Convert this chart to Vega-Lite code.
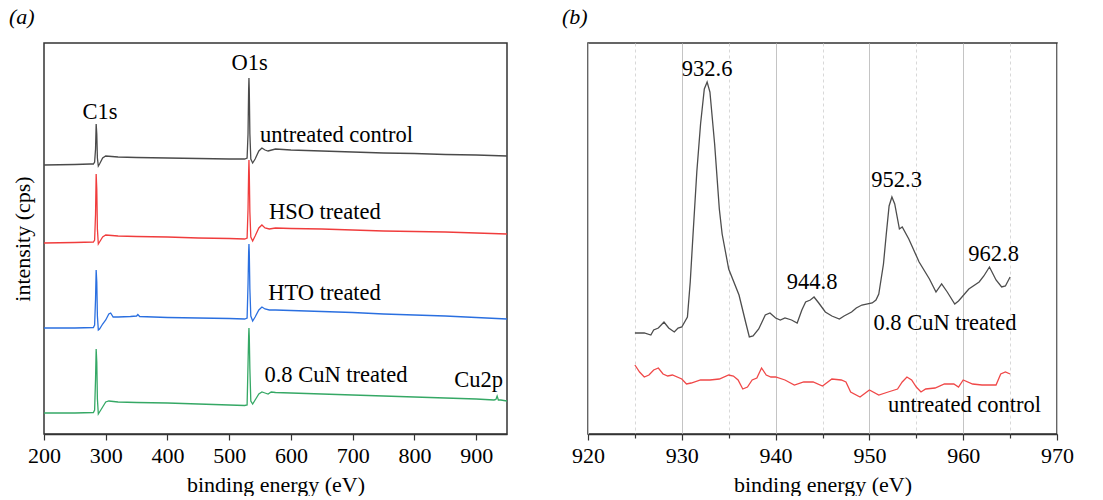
{
  "$schema": "https://vega.github.io/schema/vega-lite/v6.json",
  "padding": {"left": 8, "top": 5, "right": 5, "bottom": 0},
  "background": "white",
  "spacing": 53,
  "resolve": {"scale": {"color": "independent", "x": "independent", "y": "independent"}},
  "config": {
    "font": "Liberation Serif",
    "view": {"stroke": "#333333", "strokeWidth": 1.5},
    "axis": {"labelFont": "Liberation Serif", "labelFontSize": 22, "labelColor": "#000000", "titleFont": "Liberation Serif", "titleFontSize": 22, "titleFontWeight": "normal", "titleColor": "#000000", "domainColor": "#333333", "domainWidth": 1.5, "tickColor": "#333333", "tickWidth": 1.2, "labelPadding": 5, "titlePadding": 8},
    "title": {"font": "Liberation Serif", "fontSize": 22, "fontWeight": "normal", "fontStyle": "italic", "color": "#000000", "anchor": "start", "frame": "group", "offset": 14},
    "text": {"font": "Liberation Serif", "fontSize": 22.5, "color": "#000000", "baseline": "alphabetic", "align": "center"}
  },
  "datasets": {
    "survey": [
      {"sample": "untreated control", "energy": 200, "intensity": 269}, {"sample": "untreated control", "energy": 250, "intensity": 269.5}, {"sample": "untreated control", "energy": 275, "intensity": 270}, {"sample": "untreated control", "energy": 280, "intensity": 270}, {"sample": "untreated control", "energy": 282, "intensity": 272}, {"sample": "untreated control", "energy": 283.5, "intensity": 285}, {"sample": "untreated control", "energy": 284.5, "intensity": 310}, {"sample": "untreated control", "energy": 285.5, "intensity": 300}, {"sample": "untreated control", "energy": 286.5, "intensity": 276}, {"sample": "untreated control", "energy": 288, "intensity": 268}, {"sample": "untreated control", "energy": 290, "intensity": 270}, {"sample": "untreated control", "energy": 295, "intensity": 276}, {"sample": "untreated control", "energy": 300, "intensity": 278}, {"sample": "untreated control", "energy": 320, "intensity": 277}, {"sample": "untreated control", "energy": 350, "intensity": 276.5}, {"sample": "untreated control", "energy": 400, "intensity": 276}, {"sample": "untreated control", "energy": 450, "intensity": 275.5}, {"sample": "untreated control", "energy": 500, "intensity": 275}, {"sample": "untreated control", "energy": 525, "intensity": 275}, {"sample": "untreated control", "energy": 529, "intensity": 276}, {"sample": "untreated control", "energy": 530.5, "intensity": 300}, {"sample": "untreated control", "energy": 531.5, "intensity": 345}, {"sample": "untreated control", "energy": 532, "intensity": 356}, {"sample": "untreated control", "energy": 532.5, "intensity": 345}, {"sample": "untreated control", "energy": 533.5, "intensity": 300}, {"sample": "untreated control", "energy": 535, "intensity": 275}, {"sample": "untreated control", "energy": 538, "intensity": 271}, {"sample": "untreated control", "energy": 542, "intensity": 275}, {"sample": "untreated control", "energy": 548, "intensity": 283}, {"sample": "untreated control", "energy": 553, "intensity": 286}, {"sample": "untreated control", "energy": 558, "intensity": 284}, {"sample": "untreated control", "energy": 563, "intensity": 283}, {"sample": "untreated control", "energy": 575, "intensity": 285}, {"sample": "untreated control", "energy": 600, "intensity": 284}, {"sample": "untreated control", "energy": 650, "intensity": 283}, {"sample": "untreated control", "energy": 700, "intensity": 282}, {"sample": "untreated control", "energy": 750, "intensity": 281}, {"sample": "untreated control", "energy": 800, "intensity": 280.5}, {"sample": "untreated control", "energy": 850, "intensity": 279.5}, {"sample": "untreated control", "energy": 900, "intensity": 279}, {"sample": "untreated control", "energy": 950, "intensity": 278},
      {"sample": "HSO treated", "energy": 200, "intensity": 191}, {"sample": "HSO treated", "energy": 250, "intensity": 191.5}, {"sample": "HSO treated", "energy": 280, "intensity": 192}, {"sample": "HSO treated", "energy": 282, "intensity": 194}, {"sample": "HSO treated", "energy": 283.5, "intensity": 220}, {"sample": "HSO treated", "energy": 284.5, "intensity": 260}, {"sample": "HSO treated", "energy": 285.5, "intensity": 245}, {"sample": "HSO treated", "energy": 286.5, "intensity": 205}, {"sample": "HSO treated", "energy": 288, "intensity": 190}, {"sample": "HSO treated", "energy": 290, "intensity": 192}, {"sample": "HSO treated", "energy": 295, "intensity": 197}, {"sample": "HSO treated", "energy": 300, "intensity": 199}, {"sample": "HSO treated", "energy": 320, "intensity": 198}, {"sample": "HSO treated", "energy": 350, "intensity": 197.5}, {"sample": "HSO treated", "energy": 400, "intensity": 197}, {"sample": "HSO treated", "energy": 450, "intensity": 196}, {"sample": "HSO treated", "energy": 500, "intensity": 195.5}, {"sample": "HSO treated", "energy": 525, "intensity": 195}, {"sample": "HSO treated", "energy": 529, "intensity": 196}, {"sample": "HSO treated", "energy": 530.5, "intensity": 225}, {"sample": "HSO treated", "energy": 531.5, "intensity": 262}, {"sample": "HSO treated", "energy": 532, "intensity": 274}, {"sample": "HSO treated", "energy": 532.5, "intensity": 262}, {"sample": "HSO treated", "energy": 533.5, "intensity": 222}, {"sample": "HSO treated", "energy": 535, "intensity": 197}, {"sample": "HSO treated", "energy": 538, "intensity": 193}, {"sample": "HSO treated", "energy": 542, "intensity": 198}, {"sample": "HSO treated", "energy": 548, "intensity": 206}, {"sample": "HSO treated", "energy": 553, "intensity": 209}, {"sample": "HSO treated", "energy": 558, "intensity": 206}, {"sample": "HSO treated", "energy": 565, "intensity": 205}, {"sample": "HSO treated", "energy": 575, "intensity": 206}, {"sample": "HSO treated", "energy": 600, "intensity": 205.5}, {"sample": "HSO treated", "energy": 650, "intensity": 205}, {"sample": "HSO treated", "energy": 700, "intensity": 204}, {"sample": "HSO treated", "energy": 750, "intensity": 203}, {"sample": "HSO treated", "energy": 800, "intensity": 202.5}, {"sample": "HSO treated", "energy": 850, "intensity": 202}, {"sample": "HSO treated", "energy": 900, "intensity": 201}, {"sample": "HSO treated", "energy": 950, "intensity": 200},
      {"sample": "HTO treated", "energy": 200, "intensity": 106}, {"sample": "HTO treated", "energy": 250, "intensity": 106}, {"sample": "HTO treated", "energy": 280, "intensity": 106.5}, {"sample": "HTO treated", "energy": 282, "intensity": 109}, {"sample": "HTO treated", "energy": 283.5, "intensity": 135}, {"sample": "HTO treated", "energy": 284.5, "intensity": 164}, {"sample": "HTO treated", "energy": 285.5, "intensity": 152}, {"sample": "HTO treated", "energy": 286.5, "intensity": 118}, {"sample": "HTO treated", "energy": 288, "intensity": 104}, {"sample": "HTO treated", "energy": 290, "intensity": 105}, {"sample": "HTO treated", "energy": 295, "intensity": 110}, {"sample": "HTO treated", "energy": 300, "intensity": 114}, {"sample": "HTO treated", "energy": 305, "intensity": 120}, {"sample": "HTO treated", "energy": 308, "intensity": 121}, {"sample": "HTO treated", "energy": 312, "intensity": 117}, {"sample": "HTO treated", "energy": 320, "intensity": 117}, {"sample": "HTO treated", "energy": 340, "intensity": 117.5}, {"sample": "HTO treated", "energy": 350, "intensity": 118}, {"sample": "HTO treated", "energy": 352, "intensity": 119.5}, {"sample": "HTO treated", "energy": 355, "intensity": 117.5}, {"sample": "HTO treated", "energy": 400, "intensity": 116.5}, {"sample": "HTO treated", "energy": 450, "intensity": 116}, {"sample": "HTO treated", "energy": 500, "intensity": 115.5}, {"sample": "HTO treated", "energy": 525, "intensity": 115}, {"sample": "HTO treated", "energy": 529, "intensity": 116}, {"sample": "HTO treated", "energy": 530.5, "intensity": 150}, {"sample": "HTO treated", "energy": 531.5, "intensity": 182}, {"sample": "HTO treated", "energy": 532, "intensity": 190}, {"sample": "HTO treated", "energy": 532.5, "intensity": 182}, {"sample": "HTO treated", "energy": 533.5, "intensity": 145}, {"sample": "HTO treated", "energy": 535, "intensity": 118}, {"sample": "HTO treated", "energy": 538, "intensity": 113}, {"sample": "HTO treated", "energy": 542, "intensity": 117}, {"sample": "HTO treated", "energy": 548, "intensity": 124}, {"sample": "HTO treated", "energy": 553, "intensity": 127}, {"sample": "HTO treated", "energy": 558, "intensity": 125}, {"sample": "HTO treated", "energy": 565, "intensity": 124}, {"sample": "HTO treated", "energy": 575, "intensity": 124}, {"sample": "HTO treated", "energy": 600, "intensity": 123.5}, {"sample": "HTO treated", "energy": 650, "intensity": 122.5}, {"sample": "HTO treated", "energy": 700, "intensity": 121.5}, {"sample": "HTO treated", "energy": 750, "intensity": 120}, {"sample": "HTO treated", "energy": 800, "intensity": 119}, {"sample": "HTO treated", "energy": 850, "intensity": 118}, {"sample": "HTO treated", "energy": 900, "intensity": 116.5}, {"sample": "HTO treated", "energy": 950, "intensity": 115},
      {"sample": "0.8 CuN treated", "energy": 200, "intensity": 21}, {"sample": "0.8 CuN treated", "energy": 250, "intensity": 21}, {"sample": "0.8 CuN treated", "energy": 280, "intensity": 21.5}, {"sample": "0.8 CuN treated", "energy": 282, "intensity": 24}, {"sample": "0.8 CuN treated", "energy": 283.5, "intensity": 55}, {"sample": "0.8 CuN treated", "energy": 284.5, "intensity": 85}, {"sample": "0.8 CuN treated", "energy": 285.5, "intensity": 72}, {"sample": "0.8 CuN treated", "energy": 286.5, "intensity": 35}, {"sample": "0.8 CuN treated", "energy": 288, "intensity": 20}, {"sample": "0.8 CuN treated", "energy": 290, "intensity": 22}, {"sample": "0.8 CuN treated", "energy": 295, "intensity": 27}, {"sample": "0.8 CuN treated", "energy": 300, "intensity": 32}, {"sample": "0.8 CuN treated", "energy": 305, "intensity": 33}, {"sample": "0.8 CuN treated", "energy": 320, "intensity": 32}, {"sample": "0.8 CuN treated", "energy": 350, "intensity": 31.5}, {"sample": "0.8 CuN treated", "energy": 400, "intensity": 31}, {"sample": "0.8 CuN treated", "energy": 450, "intensity": 30}, {"sample": "0.8 CuN treated", "energy": 500, "intensity": 29}, {"sample": "0.8 CuN treated", "energy": 525, "intensity": 28.5}, {"sample": "0.8 CuN treated", "energy": 529, "intensity": 29}, {"sample": "0.8 CuN treated", "energy": 530.5, "intensity": 70}, {"sample": "0.8 CuN treated", "energy": 531.5, "intensity": 98}, {"sample": "0.8 CuN treated", "energy": 532, "intensity": 106}, {"sample": "0.8 CuN treated", "energy": 532.5, "intensity": 98}, {"sample": "0.8 CuN treated", "energy": 533.5, "intensity": 65}, {"sample": "0.8 CuN treated", "energy": 535, "intensity": 33}, {"sample": "0.8 CuN treated", "energy": 538, "intensity": 30}, {"sample": "0.8 CuN treated", "energy": 542, "intensity": 34}, {"sample": "0.8 CuN treated", "energy": 548, "intensity": 40}, {"sample": "0.8 CuN treated", "energy": 553, "intensity": 42}, {"sample": "0.8 CuN treated", "energy": 558, "intensity": 41}, {"sample": "0.8 CuN treated", "energy": 563, "intensity": 40}, {"sample": "0.8 CuN treated", "energy": 568, "intensity": 42}, {"sample": "0.8 CuN treated", "energy": 575, "intensity": 41.5}, {"sample": "0.8 CuN treated", "energy": 600, "intensity": 41}, {"sample": "0.8 CuN treated", "energy": 650, "intensity": 40}, {"sample": "0.8 CuN treated", "energy": 700, "intensity": 39}, {"sample": "0.8 CuN treated", "energy": 750, "intensity": 38}, {"sample": "0.8 CuN treated", "energy": 800, "intensity": 37}, {"sample": "0.8 CuN treated", "energy": 850, "intensity": 36}, {"sample": "0.8 CuN treated", "energy": 900, "intensity": 35}, {"sample": "0.8 CuN treated", "energy": 929, "intensity": 34}, {"sample": "0.8 CuN treated", "energy": 932, "intensity": 34.5}, {"sample": "0.8 CuN treated", "energy": 934, "intensity": 38}, {"sample": "0.8 CuN treated", "energy": 936, "intensity": 34}, {"sample": "0.8 CuN treated", "energy": 940, "intensity": 34}, {"sample": "0.8 CuN treated", "energy": 950, "intensity": 33}
    ],
    "surveyLabels": [
      {"label": "C1s", "energy": 290.7, "intensity": 315},
      {"label": "O1s", "energy": 532.9, "intensity": 364},
      {"label": "untreated control", "energy": 673.8, "intensity": 292},
      {"label": "HSO treated", "energy": 655, "intensity": 215},
      {"label": "HTO treated", "energy": 654.4, "intensity": 134},
      {"label": "0.8 CuN treated", "energy": 673, "intensity": 52},
      {"label": "Cu2p", "energy": 903.9, "intensity": 47}
    ],
    "cu": [
      {"sample": "0.8 CuN treated", "energy": 925, "intensity": 101}, {"sample": "0.8 CuN treated", "energy": 926, "intensity": 101}, {"sample": "0.8 CuN treated", "energy": 926.7, "intensity": 99}, {"sample": "0.8 CuN treated", "energy": 927, "intensity": 104}, {"sample": "0.8 CuN treated", "energy": 927.5, "intensity": 106}, {"sample": "0.8 CuN treated", "energy": 928.1, "intensity": 112}, {"sample": "0.8 CuN treated", "energy": 928.6, "intensity": 106}, {"sample": "0.8 CuN treated", "energy": 929.2, "intensity": 102}, {"sample": "0.8 CuN treated", "energy": 929.6, "intensity": 106}, {"sample": "0.8 CuN treated", "energy": 930, "intensity": 107}, {"sample": "0.8 CuN treated", "energy": 930.6, "intensity": 117}, {"sample": "0.8 CuN treated", "energy": 930.9, "intensity": 152}, {"sample": "0.8 CuN treated", "energy": 931.2, "intensity": 200}, {"sample": "0.8 CuN treated", "energy": 931.6, "intensity": 262}, {"sample": "0.8 CuN treated", "energy": 932, "intensity": 310}, {"sample": "0.8 CuN treated", "energy": 932.4, "intensity": 345}, {"sample": "0.8 CuN treated", "energy": 932.7, "intensity": 352}, {"sample": "0.8 CuN treated", "energy": 933, "intensity": 342}, {"sample": "0.8 CuN treated", "energy": 933.5, "intensity": 290}, {"sample": "0.8 CuN treated", "energy": 934, "intensity": 225}, {"sample": "0.8 CuN treated", "energy": 934.3, "intensity": 200}, {"sample": "0.8 CuN treated", "energy": 935, "intensity": 165}, {"sample": "0.8 CuN treated", "energy": 936.1, "intensity": 139}, {"sample": "0.8 CuN treated", "energy": 936.8, "intensity": 112}, {"sample": "0.8 CuN treated", "energy": 937.2, "intensity": 97}, {"sample": "0.8 CuN treated", "energy": 937.6, "intensity": 98}, {"sample": "0.8 CuN treated", "energy": 938.2, "intensity": 105}, {"sample": "0.8 CuN treated", "energy": 938.9, "intensity": 119}, {"sample": "0.8 CuN treated", "energy": 939.4, "intensity": 121}, {"sample": "0.8 CuN treated", "energy": 940, "intensity": 116}, {"sample": "0.8 CuN treated", "energy": 940.5, "intensity": 114}, {"sample": "0.8 CuN treated", "energy": 941, "intensity": 116}, {"sample": "0.8 CuN treated", "energy": 941.7, "intensity": 114}, {"sample": "0.8 CuN treated", "energy": 942.3, "intensity": 111}, {"sample": "0.8 CuN treated", "energy": 942.8, "intensity": 124}, {"sample": "0.8 CuN treated", "energy": 943.2, "intensity": 132}, {"sample": "0.8 CuN treated", "energy": 943.7, "intensity": 134}, {"sample": "0.8 CuN treated", "energy": 944.1, "intensity": 137}, {"sample": "0.8 CuN treated", "energy": 944.6, "intensity": 131}, {"sample": "0.8 CuN treated", "energy": 945.3, "intensity": 122}, {"sample": "0.8 CuN treated", "energy": 946, "intensity": 118}, {"sample": "0.8 CuN treated", "energy": 946.8, "intensity": 115}, {"sample": "0.8 CuN treated", "energy": 947.3, "intensity": 118}, {"sample": "0.8 CuN treated", "energy": 948.1, "intensity": 122}, {"sample": "0.8 CuN treated", "energy": 948.6, "intensity": 126}, {"sample": "0.8 CuN treated", "energy": 949.2, "intensity": 129}, {"sample": "0.8 CuN treated", "energy": 950.3, "intensity": 131}, {"sample": "0.8 CuN treated", "energy": 950.7, "intensity": 134}, {"sample": "0.8 CuN treated", "energy": 951, "intensity": 140}, {"sample": "0.8 CuN treated", "energy": 951.5, "intensity": 170}, {"sample": "0.8 CuN treated", "energy": 951.8, "intensity": 200}, {"sample": "0.8 CuN treated", "energy": 952.1, "intensity": 228}, {"sample": "0.8 CuN treated", "energy": 952.4, "intensity": 237}, {"sample": "0.8 CuN treated", "energy": 952.7, "intensity": 230}, {"sample": "0.8 CuN treated", "energy": 953.2, "intensity": 205}, {"sample": "0.8 CuN treated", "energy": 953.5, "intensity": 207}, {"sample": "0.8 CuN treated", "energy": 954.2, "intensity": 195}, {"sample": "0.8 CuN treated", "energy": 955.3, "intensity": 172}, {"sample": "0.8 CuN treated", "energy": 956.4, "intensity": 155}, {"sample": "0.8 CuN treated", "energy": 957.1, "intensity": 142}, {"sample": "0.8 CuN treated", "energy": 957.7, "intensity": 150}, {"sample": "0.8 CuN treated", "energy": 958.3, "intensity": 142}, {"sample": "0.8 CuN treated", "energy": 959.1, "intensity": 130}, {"sample": "0.8 CuN treated", "energy": 959.5, "intensity": 133}, {"sample": "0.8 CuN treated", "energy": 960.6, "intensity": 145}, {"sample": "0.8 CuN treated", "energy": 961.7, "intensity": 152}, {"sample": "0.8 CuN treated", "energy": 962.2, "intensity": 158}, {"sample": "0.8 CuN treated", "energy": 962.8, "intensity": 167}, {"sample": "0.8 CuN treated", "energy": 963.5, "intensity": 154}, {"sample": "0.8 CuN treated", "energy": 964.1, "intensity": 147}, {"sample": "0.8 CuN treated", "energy": 964.5, "intensity": 148}, {"sample": "0.8 CuN treated", "energy": 965, "intensity": 157},
      {"sample": "untreated control", "energy": 925, "intensity": 69}, {"sample": "untreated control", "energy": 925.5, "intensity": 62}, {"sample": "untreated control", "energy": 926, "intensity": 57}, {"sample": "untreated control", "energy": 926.5, "intensity": 59}, {"sample": "untreated control", "energy": 927, "intensity": 64}, {"sample": "untreated control", "energy": 927.5, "intensity": 66}, {"sample": "untreated control", "energy": 928, "intensity": 60}, {"sample": "untreated control", "energy": 928.5, "intensity": 58}, {"sample": "untreated control", "energy": 929, "intensity": 59}, {"sample": "untreated control", "energy": 930, "intensity": 55}, {"sample": "untreated control", "energy": 930.5, "intensity": 50}, {"sample": "untreated control", "energy": 931, "intensity": 51}, {"sample": "untreated control", "energy": 932, "intensity": 54}, {"sample": "untreated control", "energy": 933, "intensity": 54}, {"sample": "untreated control", "energy": 934, "intensity": 55}, {"sample": "untreated control", "energy": 935, "intensity": 59}, {"sample": "untreated control", "energy": 935.5, "intensity": 58}, {"sample": "untreated control", "energy": 936, "intensity": 54}, {"sample": "untreated control", "energy": 936.5, "intensity": 45}, {"sample": "untreated control", "energy": 937, "intensity": 47}, {"sample": "untreated control", "energy": 937.5, "intensity": 54}, {"sample": "untreated control", "energy": 938, "intensity": 56}, {"sample": "untreated control", "energy": 938.5, "intensity": 66}, {"sample": "untreated control", "energy": 939, "intensity": 59}, {"sample": "untreated control", "energy": 939.5, "intensity": 57}, {"sample": "untreated control", "energy": 940, "intensity": 57}, {"sample": "untreated control", "energy": 941, "intensity": 54}, {"sample": "untreated control", "energy": 942, "intensity": 49}, {"sample": "untreated control", "energy": 943, "intensity": 52}, {"sample": "untreated control", "energy": 944, "intensity": 52}, {"sample": "untreated control", "energy": 945, "intensity": 48}, {"sample": "untreated control", "energy": 946, "intensity": 55}, {"sample": "untreated control", "energy": 947, "intensity": 54}, {"sample": "untreated control", "energy": 947.5, "intensity": 52}, {"sample": "untreated control", "energy": 948, "intensity": 42}, {"sample": "untreated control", "energy": 949, "intensity": 37}, {"sample": "untreated control", "energy": 950, "intensity": 44}, {"sample": "untreated control", "energy": 951, "intensity": 39}, {"sample": "untreated control", "energy": 952, "intensity": 42}, {"sample": "untreated control", "energy": 953, "intensity": 45}, {"sample": "untreated control", "energy": 953.5, "intensity": 52}, {"sample": "untreated control", "energy": 954, "intensity": 57}, {"sample": "untreated control", "energy": 954.5, "intensity": 54}, {"sample": "untreated control", "energy": 955, "intensity": 47}, {"sample": "untreated control", "energy": 955.5, "intensity": 42}, {"sample": "untreated control", "energy": 956, "intensity": 45}, {"sample": "untreated control", "energy": 957, "intensity": 46}, {"sample": "untreated control", "energy": 958, "intensity": 50}, {"sample": "untreated control", "energy": 959, "intensity": 50}, {"sample": "untreated control", "energy": 959.5, "intensity": 47}, {"sample": "untreated control", "energy": 960, "intensity": 54}, {"sample": "untreated control", "energy": 961, "intensity": 50}, {"sample": "untreated control", "energy": 962, "intensity": 49}, {"sample": "untreated control", "energy": 963, "intensity": 49}, {"sample": "untreated control", "energy": 963.5, "intensity": 49}, {"sample": "untreated control", "energy": 964, "intensity": 60}, {"sample": "untreated control", "energy": 964.5, "intensity": 62}, {"sample": "untreated control", "energy": 965, "intensity": 60}
    ],
    "cuLabels": [
      {"label": "932.6", "energy": 932.7, "intensity": 358},
      {"label": "952.3", "energy": 952.9, "intensity": 247},
      {"label": "944.8", "energy": 943.9, "intensity": 145},
      {"label": "962.8", "energy": 963.25, "intensity": 173},
      {"label": "0.8 CuN treated", "energy": 958.06, "intensity": 104},
      {"label": "untreated control", "energy": 960.14, "intensity": 22}
    ]
  },
  "hconcat": [
    {
      "width": 463,
      "height": 391,
      "title": {"text": "(a)", "dx": -35},
      "layer": [
        {
          "data": {"name": "survey"},
          "mark": {"type": "line", "strokeWidth": 1.3, "clip": true},
          "encoding": {
            "x": {"field": "energy", "type": "quantitative", "scale": {"domain": [200, 950], "nice": false, "zero": false},
              "axis": {"title": "binding energy (eV)", "values": [200, 250, 300, 350, 400, 450, 500, 550, 600, 650, 700, 750, 800, 850, 900, 950], "labelExpr": "datum.value % 100 === 0 ? datum.label : ''", "tickSize": {"condition": {"test": "datum.value % 100 === 0", "value": 6}, "value": 4}, "grid": false, "labelFlush": false}},
            "y": {"field": "intensity", "type": "quantitative", "scale": {"domain": [0, 391], "nice": false},
              "axis": {"title": "intensity (cps)", "labels": false, "ticks": false, "domain": false, "grid": false, "titlePadding": 10}},
            "color": {"field": "sample", "type": "nominal", "legend": null,
              "scale": {"domain": ["untreated control", "HSO treated", "HTO treated", "0.8 CuN treated"], "range": ["#4a4a4a", "#f03c3c", "#2a6fe0", "#35a865"]}}
          }
        },
        {
          "data": {"name": "surveyLabels"},
          "mark": {"type": "text"},
          "encoding": {
            "x": {"field": "energy", "type": "quantitative"},
            "y": {"field": "intensity", "type": "quantitative"},
            "text": {"field": "label", "type": "nominal"}
          }
        }
      ]
    },
    {
      "width": 469,
      "height": 391,
      "title": {"text": "(b)", "dx": -26},
      "layer": [
        {
          "data": {"name": "cu"},
          "mark": {"type": "line", "strokeWidth": 1.3, "clip": true},
          "encoding": {
            "x": {"field": "energy", "type": "quantitative", "scale": {"domain": [920, 970], "nice": false, "zero": false},
              "axis": {"title": "binding energy (eV)", "values": [920, 925, 930, 935, 940, 945, 950, 955, 960, 965, 970], "labelExpr": "datum.value % 10 === 0 ? datum.label : ''", "tickSize": {"condition": {"test": "datum.value % 10 === 0", "value": 6}, "value": 4}, "grid": true, "gridColor": {"condition": {"test": "datum.value % 10 === 0", "value": "#c4c4c4"}, "value": "#d8d8d8"}, "gridDash": {"condition": {"test": "datum.value % 10 === 0", "value": []}, "value": [3, 3]}, "gridWidth": 1, "labelFlush": false}},
            "y": {"field": "intensity", "type": "quantitative", "scale": {"domain": [0, 391], "nice": false}, "axis": null},
            "color": {"field": "sample", "type": "nominal", "legend": null,
              "scale": {"domain": ["0.8 CuN treated", "untreated control"], "range": ["#4d4d4d", "#f04848"]}}
          }
        },
        {
          "data": {"name": "cuLabels"},
          "mark": {"type": "text"},
          "encoding": {
            "x": {"field": "energy", "type": "quantitative"},
            "y": {"field": "intensity", "type": "quantitative"},
            "text": {"field": "label", "type": "nominal"}
          }
        }
      ]
    }
  ]
}
